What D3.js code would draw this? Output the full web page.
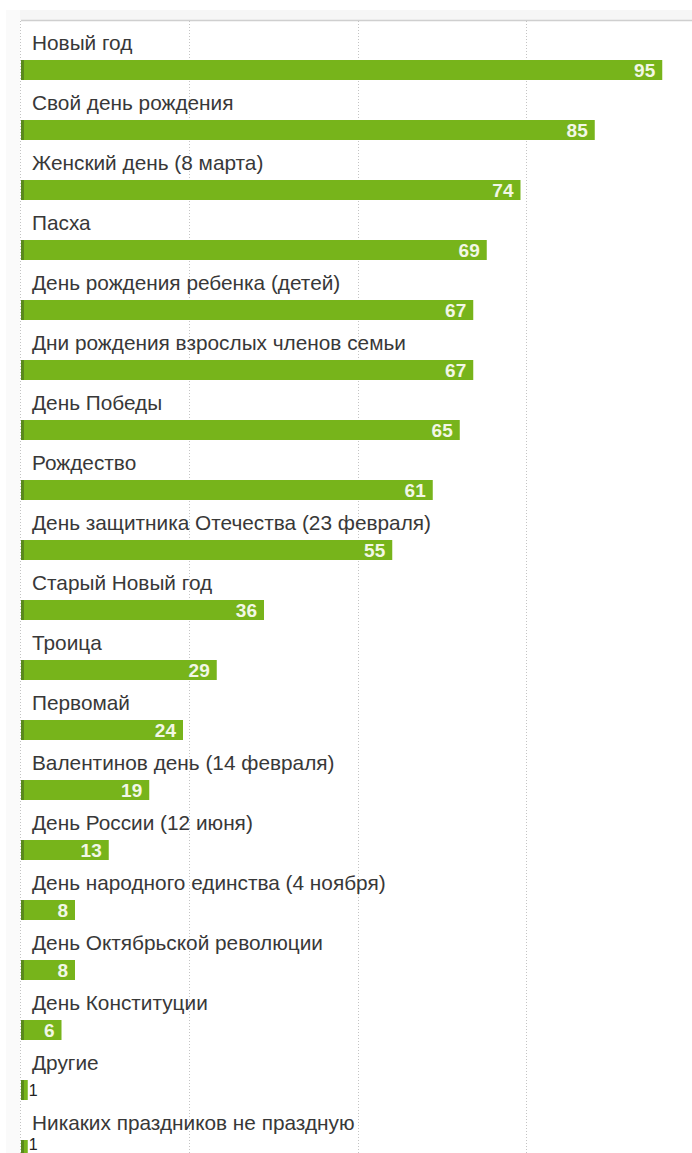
<!DOCTYPE html>
<html>
<head>
<meta charset="utf-8">
<script src="https://cdn.jsdelivr.net/npm/d3@7"></script>
<style>
  body { margin: 0; background: #fff; }
  svg { display: block; font-family: "Liberation Sans", Arial, Helvetica, sans-serif; }
</style>
</head>
<body>
<svg id="chart"></svg>
<script>
const width = 692;
const height = 1153;

const categories = [
  "Новый год",
  "Свой день рождения",
  "Женский день (8 марта)",
  "Пасха",
  "День рождения ребенка (детей)",
  "Дни рождения взрослых членов семьи",
  "День Победы",
  "Рождество",
  "День защитника Отечества (23 февраля)",
  "Старый Новый год",
  "Троица",
  "Первомай",
  "Валентинов день (14 февраля)",
  "День России (12 июня)",
  "День народного единства (4 ноября)",
  "День Октябрьской революции",
  "День Конституции",
  "Другие",
  "Никаких праздников не праздную"
];
const values = [95, 85, 74, 69, 67, 67, 65, 61, 55, 36, 29, 24, 19, 13, 8, 8, 6, 1, 1];
const gridTicks = [0, 25, 50, 75];

const svg = d3.select("#chart")
  .attr("width", width)
  .attr("height", height);

const x = d3.scaleLinear()
  .domain([0, 100])
  .range([21, 696]);

const y = d3.scaleBand()
  .domain(categories)
  .range([30, 30 + categories.length * 60]);

// panel background / frame
svg.append("rect")
  .attr("x", 6).attr("y", 10)
  .attr("width", width - 6).attr("height", 10)
  .attr("fill", "#f6f6f6");
svg.append("rect")
  .attr("x", 6).attr("y", 10)
  .attr("width", 14).attr("height", height - 10)
  .attr("fill", "#fafafa");
svg.append("line")
  .attr("x1", x(0)).attr("x2", width)
  .attr("y1", 20.5).attr("y2", 20.5)
  .attr("stroke", "#cfcfcf")
  .attr("stroke-width", 1.5);

// dotted gridlines
svg.append("g")
  .selectAll("line")
  .data(gridTicks)
  .join("line")
  .attr("x1", d => Math.round(x(d)) - 0.5)
  .attr("x2", d => Math.round(x(d)) - 0.5)
  .attr("y1", 21)
  .attr("y2", height)
  .attr("stroke", "#c4c4c4")
  .attr("stroke-dasharray", "1,2");

const rows = svg.append("g")
  .selectAll("g")
  .data(categories)
  .join("g")
  .attr("transform", d => "translate(0," + y(d) + ")");

// category labels
rows.append("text")
  .attr("x", 32)
  .attr("y", 20)
  .attr("font-size", 20.8)
  .attr("fill", "#383838")
  .text(d => d);

// bars
rows.append("rect")
  .attr("x", x(0))
  .attr("y", 30)
  .attr("width", (d, i) => x(values[i]) - x(0))
  .attr("height", 20)
  .attr("fill", "#77b41b");

rows.append("rect")
  .attr("x", x(0))
  .attr("y", 30)
  .attr("width", 3)
  .attr("height", 20)
  .attr("fill", "#5a8a1c");

// value labels (small values sit outside the bar, kept inside the page)
rows.append("text")
  .attr("x", (d, i) => values[i] > 3 ? x(values[i]) - 7 : x(values[i]) + 1)
  .attr("y", (d, i) => values[i] > 3 ? 47 : Math.min(46, height - 3.5 - y(d)))
  .attr("text-anchor", (d, i) => values[i] > 3 ? "end" : "start")
  .attr("font-size", (d, i) => values[i] > 3 ? 19 : 16)
  .attr("font-weight", (d, i) => values[i] > 3 ? "bold" : "normal")
  .attr("fill", (d, i) => values[i] > 3 ? "#f2f7e6" : "#222")
  .text((d, i) => values[i]);
</script>
</body>
</html>
